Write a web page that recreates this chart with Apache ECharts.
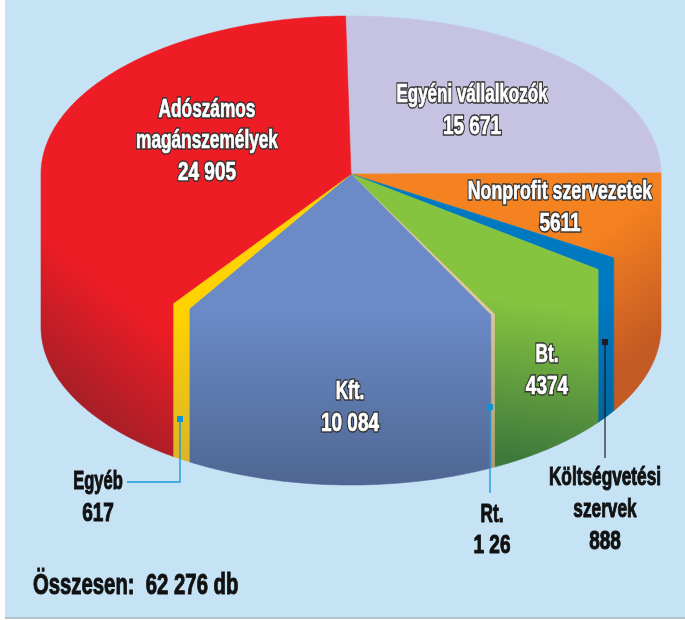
<!DOCTYPE html>
<html>
<head>
<meta charset="utf-8">
<style>html,body{margin:0;padding:0;background:#fff}#chart{width:685px;height:620px}</style>
<script src="https://cdn.jsdelivr.net/npm/echarts@6/dist/echarts.min.js"></script>
</head>
<body>
<div id="chart"></div>
<script>
// data, clockwise from the top of the pie
var names = ['Egyéni vállalkozók', 'Nonprofit szervezetek', 'Költségvetési\nszervek', 'Bt.', 'Rt.', 'Kft.', 'Egyéb', 'Adószámos\nmagánszemélyek'];
var values = [15671, 5611, 888, 4374, 126, 10084, 617, 24905];
var valueLabels = ['15 671', '5611', '888', '4374', '1 26', '10 084', '617', '24 905'];
var totalLabel = 'Összesen:  62 276 db';

var topColors = ['#c5c3e1', '#f58220', '#0079c1', '#86c440', '#e1c699', '#6b8ac6', '#ffd200', '#ee1c25'];
var wallColors = ['#c5c3e1', '#c45a24', '#005f8e', '#3f7a3c', '#b39a6c', '#4e6591', '#d9b32a', '#9c1f28'];
// gradient vector of each slice [x, y, x2, y2]
var sliceGrad = [
  [0, 200, 0, 400], [610, 225, 682, 321], [0, 300, 0, 470], [520, 300, 500, 455],
  [0, 310, 0, 470], [0, 310, 0, 490], [0, 310, 0, 470], [110, 285, 29, 386]
];
// label centre x and y of the first line, line step, horizontal squeeze
var labelPos = [[472, 95], [560, 192], [605, 478], [547, 355], [492, 515], [350, 392], [98, 482], [207, 110]];
var lineStep = [32, 32, 32, 32, 31, 32, 32, 31.5];
var labelSqueeze = [0.68, 0.71, 0.69, 0.69, 0.69, 0.69, 0.66, 0.69];
var valueSqueeze = 0.76;
var outside = [false, false, true, false, true, false, true, false];
var labelFont = 'bold 25px "Liberation Sans"';

// pie geometry
var cx = 351, cy = 174, rx = 310, ry = 158, depth = 153, startDeg = -1;
var total = values.reduce(function (a, b) { return a + b; }, 0);

function pt(deg, dy) {
  var r = deg * Math.PI / 180;
  return [cx + rx * Math.sin(r), cy - ry * Math.cos(r) + dy];
}
function arc(a0, a1, dy) {
  var pts = [], n = Math.max(2, Math.ceil(Math.abs(a1 - a0)));
  for (var i = 0; i <= n; i++) pts.push(pt(a0 + (a1 - a0) * i / n, dy));
  return pts;
}
function textEl(str, x, y, scaleX, fill, stroke, lw) {
  return {
    type: 'text', x: x, y: y, scaleX: scaleX,
    style: { text: str, font: labelFont, fill: fill, stroke: stroke, lineWidth: lw, textAlign: 'center', textVerticalAlign: 'middle' }
  };
}

function renderSlice(params, api) {
  var i = params.dataIndex, before = 0;
  for (var k = 0; k < i; k++) before += values[k];
  var a0 = startDeg + before / total * 360;
  var a1 = a0 + api.value(0) / total * 360;
  var children = [];

  var g = sliceGrad[i];
  var fill = {
    type: 'linear', global: true, x: g[0], y: g[1], x2: g[2], y2: g[3],
    colorStops: [{ offset: 0, color: topColors[i] }, { offset: 1, color: wallColors[i] }]
  };
  // top face and front wall as one outline, so no seam shows between them
  var w0 = Math.max(a0, 90), w1 = Math.min(a1, 270);
  var points = [[cx, cy]];
  if (w1 > w0) {
    if (a0 < w0) points = points.concat(arc(a0, w0, 0));
    else points.push(pt(a0, 0));
    points = points.concat(arc(w0, w1, depth));
    if (a1 > w1) points = points.concat(arc(w1, a1, 0));
    else points.push(pt(a1, 0));
  } else {
    points = points.concat(arc(a0, a1, 0));
  }
  children.push({
    type: 'polygon',
    shape: { points: points },
    style: { fill: fill, stroke: fill, lineWidth: 0.6 }
  });
  // text
  var lines = names[i].split('\n').concat(valueLabels[i]);
  lines.forEach(function (s, n) {
    var y = labelPos[i][1] + n * lineStep[i];
    var sx = n === lines.length - 1 ? valueSqueeze : labelSqueeze[i];
    if (outside[i]) {
      children.push(textEl(s, labelPos[i][0], y, sx, '#111', '#111', 1));
    } else {
      children.push(textEl(s, labelPos[i][0], y, sx, '#333', '#333', 3.6));
      children.push(textEl(s, labelPos[i][0], y, sx, '#fff', '#fff', 0.7));
    }
  });
  return { type: 'group', children: children };
}

var chart = echarts.init(document.getElementById('chart'));
chart.setOption({
  animation: false,
  backgroundColor: '#ffffff',
  graphic: [
    { type: 'rect', z: 0, shape: { x: 5, y: 0, width: 680, height: 617 }, style: { fill: '#c6e3f6' } },
    { type: 'rect', z: 0, shape: { x: 5, y: 617, width: 680, height: 2 }, style: { fill: '#b4c2cc' } },
    // leader lines
    { type: 'polyline', z: 5, shape: { points: [[180, 419], [180, 482], [127, 482]] }, style: { fill: null, stroke: '#1a9ad6', lineWidth: 1.4 } },
    { type: 'rect', z: 5, shape: { x: 177, y: 416, width: 6, height: 6 }, style: { fill: '#0a94d6' } },
    { type: 'line', z: 5, shape: { x1: 490, y1: 407, x2: 490, y2: 493 }, style: { stroke: '#1a9ad6', lineWidth: 1.4 } },
    { type: 'rect', z: 5, shape: { x: 487, y: 404, width: 6, height: 6 }, style: { fill: '#0a94d6' } },
    { type: 'line', z: 5, shape: { x1: 605, y1: 341, x2: 605, y2: 458 }, style: { stroke: 'rgba(20,24,34,0.72)', lineWidth: 1.6 } },
    { type: 'rect', z: 5, shape: { x: 602, y: 339, width: 6, height: 6 }, style: { fill: '#1c1e26' } },
    {
      type: 'text', z: 5, x: 33, y: 586, scaleX: 0.7,
      style: { text: totalLabel, font: 'bold 29px "Liberation Sans"', fill: '#111', stroke: '#111', lineWidth: 1, textAlign: 'left', textVerticalAlign: 'middle' }
    }
  ],
  series: [{
    type: 'custom',
    coordinateSystem: 'none',
    z: 2,
    silent: true,
    data: values,
    renderItem: renderSlice
  }]
});
</script>
</body>
</html>
